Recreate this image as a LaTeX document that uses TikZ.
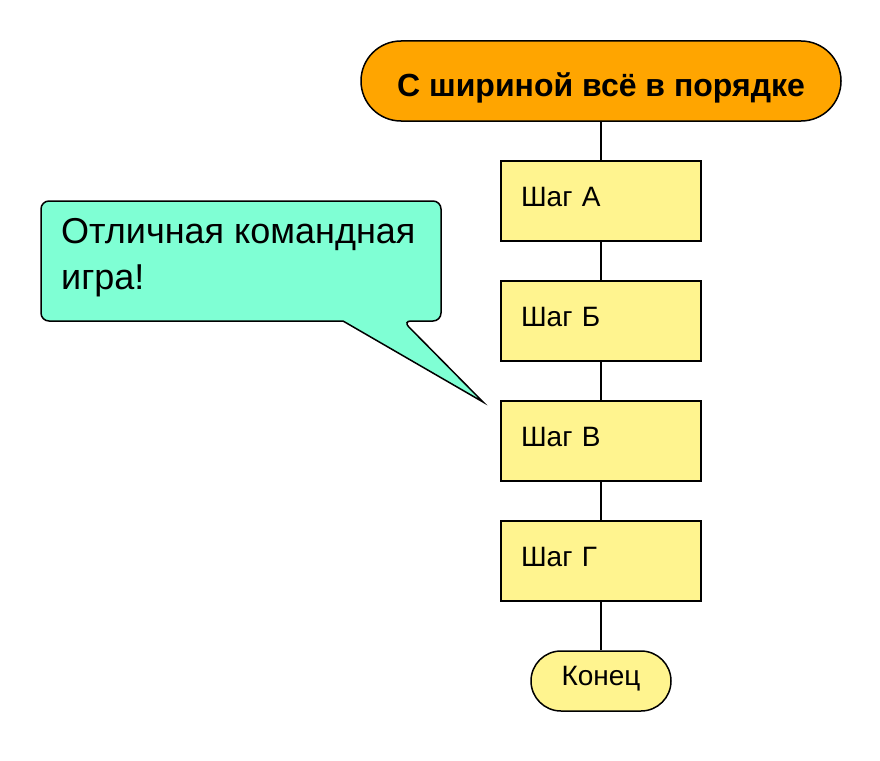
\documentclass[tikz,border=0pt]{standalone}
\usepackage{fontspec}
\setmainfont{Liberation Sans}
\usepackage{tikz}

\definecolor{startfill}{RGB}{255,165,0}
\definecolor{stepfill}{RGB}{255,244,143}
\definecolor{bubblefill}{RGB}{127,255,212}

\tikzset{
  stepbox/.style={draw,line width=1.5pt,fill=stepfill,minimum width=200pt,minimum height=80pt,
    text width=160pt,inner xsep=20pt,align=left,text height=20pt,text depth=10pt,
    font=\fontsize{28}{34}\selectfont},
  startbox/.style={draw,line width=1.5pt,fill=startfill,rounded corners=40pt,minimum width=480pt,
    minimum height=80pt,text height=30pt,text depth=0pt,font=\fontsize{32}{38}\selectfont\bfseries},
  endbox/.style={draw,line width=1.5pt,fill=stepfill,rounded corners=30pt,minimum width=140pt,
    minimum height=60pt,text height=20pt,text depth=12pt,font=\fontsize{28}{34}\selectfont}
}

\begin{document}
\begin{tikzpicture}[x=1pt,y=-1pt]
\useasboundingbox (0,0) rectangle (880,760);
\node[startbox] (start) at (601,81) {С шириной всё в порядке};
\node[stepbox] (A) at (601,201) {Шаг А};
\node[stepbox] (B) at (601,321) {Шаг Б};
\node[stepbox] (C) at (601,441) {Шаг В};
\node[stepbox] (D) at (601,561) {Шаг Г};
\node[endbox] (end) at (601,681) {Конец};
\draw[line width=1.5pt] (start) -- (A) (A) -- (B) (B) -- (C) (C) -- (D) (D) -- (end);
% the speech bubble
\filldraw[line width=1.5pt,fill=bubblefill,line join=miter]
  (41,261) [rounded corners=8pt] -- (41,201) -- (441,201) -- (441,321) -- (403,321)
  [sharp corners] -- (483,402) -- (343,321) [rounded corners=8pt] -- (41,321) -- cycle;
\node[anchor=north west,inner sep=0pt,align=left,font=\fontsize{36}{46}\selectfont]
  (remark) at (61,218.5) {Отличная командная\\игра!};
\end{tikzpicture}
\end{document}
